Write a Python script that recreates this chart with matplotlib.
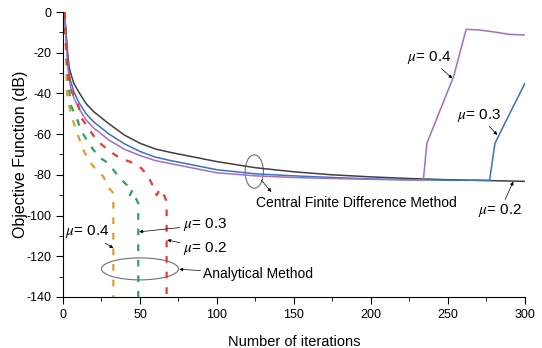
import matplotlib.pyplot as plt
from matplotlib.patches import Ellipse
from matplotlib.ticker import MultipleLocator

plt.rcParams['font.family'] = ['Liberation Sans', 'DejaVu Sans']
plt.rcParams['mathtext.fontset'] = 'stix'
plt.rcParams['axes.unicode_minus'] = False

# central finite difference method (solid)
cfd02_x = [1, 2, 3, 4, 5, 7, 10, 15, 20, 25, 30, 40, 50, 60, 70, 80, 90, 100, 125, 150, 175, 200, 225, 250, 275, 300]
cfd02_y = [0, -10, -20, -27, -30, -35, -39, -45, -49, -52, -55, -60.5, -64.5, -67.3, -69, -70.5, -72, -73.5,
           -76.5, -78.5, -80, -81, -81.8, -82.4, -82.8, -83.2]

cfd03_x = [1, 2, 3, 4, 5, 7, 10, 15, 20, 25, 30, 40, 50, 60, 70, 80, 90, 100, 125, 150, 175, 200, 225,
           250, 277, 280.5, 290, 300]
cfd03_y = [0, -12, -22, -30, -34, -39, -44, -50, -54, -57, -60, -64.8, -68.5, -71.3, -73, -74.5, -76, -77.5,
           -79.5, -80.5, -81.3, -82, -82.4, -82.6, -82.7, -64.5, -50, -35]

cfd04_x = [1, 2, 3, 4, 5, 7, 10, 15, 20, 25, 30, 40, 50, 60, 70, 80, 90, 100, 125, 150, 175, 200, 225,
           234, 236.3, 245, 253.6, 261.8, 270, 280, 290, 300]
cfd04_y = [0, -14, -26, -33, -37, -42, -47, -53, -57, -60, -63, -67.5, -70.5, -73, -74.5, -76, -77.5, -79,
           -80.5, -81.3, -81.8, -82.2, -82.5, -82.5, -64.5, -48, -31.8, -8.5, -8.8, -9.8, -11, -11.3]

# analytical method (dashed)
an04_x = [1, 2, 2.6, 4, 6.3, 8.9, 12.8, 16.5, 20.8, 26.2, 30, 32.7, 32.7]
an04_y = [0, -20, -40, -46, -53, -58.8, -67, -72.7, -76.8, -80.9, -86.6, -89, -140]

an03_x = [1, 2, 3, 5, 8.9, 12.1, 17.5, 22.9, 29.4, 37, 41.5, 43.5, 45, 47, 48.9, 48.9]
an03_y = [0, -16, -30, -45.7, -52.2, -58.8, -65.3, -71, -74.3, -81.7, -85, -90, -87.5, -91, -94, -140]

an02_x = [1, 2, 3.5, 5.6, 9.9, 12.1, 16.5, 21.8, 29.4, 37, 43.5, 51, 55.4, 58.6, 60.8, 63, 65, 67.3, 67.3]
an02_y = [0, -16, -30, -39, -45.7, -52.2, -57, -63, -67.8, -71.9, -73.5, -76.8, -80.9, -85.8, -90, -87, -89, -93, -140]

fig = plt.figure(figsize=(5.42, 3.48), dpi=100)
ax = fig.add_axes([0.1162, 0.1466, 0.8524, 0.8189])

ax.plot(cfd02_x, cfd02_y, color='#404040', lw=1.1)
ax.plot(cfd03_x, cfd03_y, color='#3a70c8', lw=1.1)
ax.plot(cfd04_x, cfd04_y, color='#a070c0', lw=1.1)

dash = (0, (3, 4))
ax.plot(an04_x, an04_y, color='#d8a030', lw=1.6, ls=dash)
ax.plot(an03_x, an03_y, color='#30a060', lw=1.6, ls=dash)
ax.plot(an02_x, an02_y, color='#f03838', lw=1.6, ls=dash)

ax.set_xlim(0, 300)
ax.set_ylim(-140, 0)
ax.xaxis.set_major_locator(MultipleLocator(50))
ax.xaxis.set_minor_locator(MultipleLocator(25))
ax.yaxis.set_major_locator(MultipleLocator(20))
ax.yaxis.set_minor_locator(MultipleLocator(10))
ax.tick_params(which='major', direction='out', length=5, labelsize=9)
ax.tick_params(which='minor', direction='out', length=3)
for s in ['top', 'right']:
    ax.spines[s].set_visible(False)

ax.set_xlabel('Number of iterations', fontsize=10.5, labelpad=10)
ax.set_ylabel('Objective Function (dB)', fontsize=11.5, labelpad=-1)

arrow = dict(arrowstyle='-|>', color='black', lw=0.5, mutation_scale=5, shrinkA=0, shrinkB=0)
fs = 11
ax.annotate('$\\mu$= 0.4', xy=(32.7, -116), xytext=(15.5, -108), fontsize=fs, ha='center', va='center', arrowprops=arrow)
ax.annotate('$\\mu$= 0.3', xy=(49.5, -108), xytext=(92, -104.6), fontsize=fs, ha='center', va='center', arrowprops=arrow)
ax.annotate('$\\mu$= 0.2', xy=(67.7, -112), xytext=(92, -116), fontsize=fs, ha='center', va='center', arrowprops=arrow)
ax.annotate('$\\mu$= 0.4', xy=(252.8, -32.6), xytext=(237.7, -22.3), fontsize=fs, ha='center', va='center', arrowprops=arrow)
ax.annotate('$\\mu$= 0.3', xy=(282, -60.4), xytext=(270, -50.6), fontsize=fs, ha='center', va='center', arrowprops=arrow)
ax.annotate('$\\mu$= 0.2', xy=(292.4, -83.3), xytext=(283.8, -97.6), fontsize=fs, ha='center', va='center', arrowprops=arrow)

ax.add_patch(Ellipse((50, -126.2), 50, 10.8, fill=False, ec='#707070', lw=0.8))
ax.annotate('Analytical Method', xy=(75.5, -126.4), xytext=(91, -128.7), fontsize=10, ha='left', va='center',
            arrowprops=arrow)

ax.add_patch(Ellipse((124.2, -78.4), 11.9, 16.4, fill=False, ec='#707070', lw=0.8))
ax.annotate('', xy=(135.3, -88.4), xytext=(128.8, -82.6), arrowprops=arrow)
ax.text(125.5, -93.7, 'Central Finite Difference Method', fontsize=10, ha='left', va='center')

plt.savefig('out.png', dpi=100)
